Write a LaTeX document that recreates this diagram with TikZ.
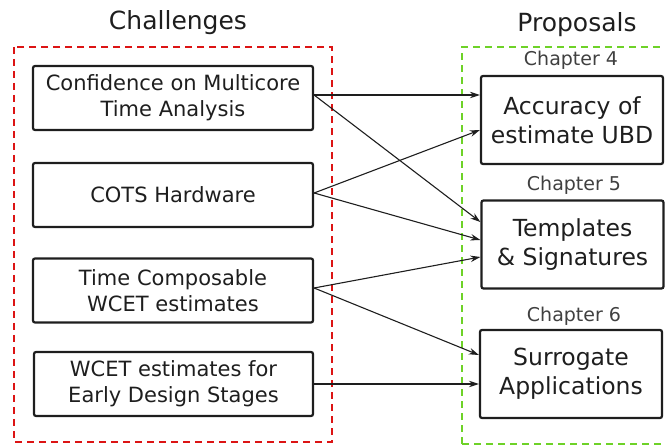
\documentclass[tikz,border=0pt]{standalone}
\usepackage{fontspec}
\setmainfont{DejaVu Sans}
\usetikzlibrary{arrows.meta}
\definecolor{dred}{RGB}{220,20,20}
\definecolor{dgreen}{RGB}{110,210,40}
\definecolor{ink}{RGB}{30,30,30}
\tikzset{
  lbox/.style={draw=ink, line width=2.2pt, rounded corners=2pt, minimum width=280pt, minimum height=64pt, align=center, font=\fontsize{21}{26}\selectfont, text=ink, inner sep=1pt},
  rbox/.style={draw=ink, line width=2.2pt, rounded corners=2pt, minimum width=182pt, minimum height=88pt, align=center, font=\fontsize{23.5}{29}\selectfont, text=ink, inner sep=1pt},
  chap/.style={font=\fontsize{19}{22}\selectfont, text=ink!85, anchor=base},
  ttl/.style={font=\fontsize{25}{28}\selectfont, text=ink, anchor=base},
  conn/.style={draw=ink, line width=1.1pt, -{Stealth[length=10pt,width=6.5pt]}},
  group/.style={line width=2pt, dash pattern=on 7pt off 5pt}
}
\begin{document}
\begin{tikzpicture}[x=1pt,y=-1pt]
\useasboundingbox (0,0) rectangle (665,446);
\draw[group, draw=dred] (14,47) rectangle (332,442);
\draw[group, draw=dgreen] (462,444) -- (462,47) -- (668,47);
\draw[group, draw=dgreen] (462,444) -- (668,444);
\node[ttl] (t1) at (178,30) {Challenges};
\node[ttl] (t2) at (577,32) {Proposals};
\node[lbox] (c1) at (173,98) {Confidence on Multicore\\Time Analysis};
\node[lbox] (c2) at (173,195) {COTS Hardware};
\node[lbox] (c3) at (173,290.5) {Time Composable\\WCET estimates};
\node[lbox, minimum width=279pt] (c4) at (173.5,384) {WCET estimates for\\Early Design Stages};
\node[rbox] (p1) at (572,120) {Accuracy of\\estimate UBD};
\node[rbox] (p2) at (572.5,244.5) {Templates\\\& Signatures};
\node[rbox] (p3) at (571,374) {Surrogate\\Applications};
\node[chap] (h1) at (571,66) {Chapter 4};
\node[chap] (h2) at (574,191) {Chapter 5};
\node[chap] (h3) at (574,322) {Chapter 6};
\draw[conn] ([yshift=3pt]c1.east) -- ([yshift=25pt]p1.west);
\draw[conn] ([yshift=3pt]c1.east) -- ([yshift=22.5pt]p2.west);
\draw[conn] ([yshift=2pt]c2.east) -- ([yshift=-10pt]p1.west);
\draw[conn] ([yshift=2pt]c2.east) -- ([yshift=4.5pt]p2.west);
\draw[conn] ([yshift=2.5pt]c3.east) -- ([yshift=-12.5pt]p2.west);
\draw[conn] ([yshift=2.5pt]c3.east) -- ([yshift=19pt]p3.west);
\draw[conn] (c4.east) -- ([yshift=-10pt]p3.west);
\end{tikzpicture}
\end{document}
